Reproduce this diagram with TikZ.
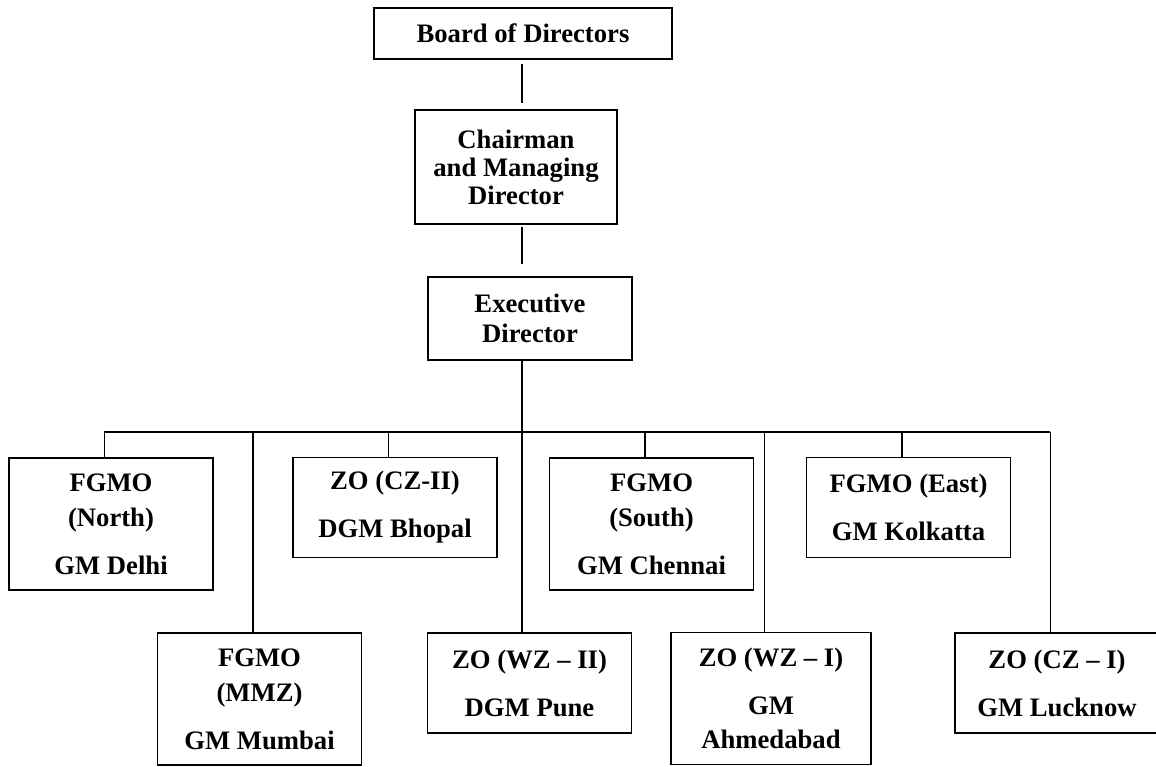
\documentclass[tikz,border=0pt]{standalone}
\usepackage{fontspec}
\setmainfont{Liberation Serif}
\usetikzlibrary{positioning}
\tikzset{orgbox/.style={draw, line width=1.1pt, inner sep=0pt, align=center, minimum width=153pt, font=\bfseries\fontsize{20}{26}\selectfont},
tall/.style={minimum height=99pt},
short/.style={minimum height=75pt},
headbox/.style={orgbox, font=\bfseries\fontsize{20}{23}\selectfont},
link/.style={line width=1.1pt}}

\begin{document}
\begin{tikzpicture}[x=0.75pt,y=-0.75pt]
\useasboundingbox (0,0) rectangle (1156,767);

\node[headbox, minimum width=223.5pt, minimum height=38.25pt] (board) at (523,33.5) {Board of Directors};
\node[headbox, minimum width=151.5pt, minimum height=85.5pt, font=\bfseries\fontsize{20}{21}\selectfont] (cmd) at (516,167) {Chairman\\and Managing\\Director};
\node[headbox, minimum height=62.25pt] (ed) at (530,318.5) {Executive\\Director};

\node[orgbox, tall] (north) at (111,524) {FGMO\\(North)\\[10pt]GM Delhi};
\node[orgbox, short] (czii) at (395,507.5) {ZO (CZ-II)\\[10pt]DGM Bhopal};
\node[orgbox, tall] (south) at (651.5,524) {FGMO\\(South)\\[10pt]GM Chennai};
\node[orgbox, short] (east) at (908.5,507.5) {FGMO (East)\\[10pt]GM Kolkatta};

\node[orgbox, tall] (mmz) at (259.5,699) {FGMO\\(MMZ)\\[10pt]GM Mumbai};
\node[orgbox, short] (pune) at (529.5,683) {ZO (WZ – II)\\[10pt]DGM Pune};
\node[orgbox, tall, minimum width=150pt] (wzi) at (771,698.5) {ZO (WZ – I)\\[10pt]GM\\Ahmedabad};
\node[orgbox, short] (czi) at (1057,683) {ZO (CZ – I)\\[10pt]GM Lucknow};

\coordinate (spine) at (522,0);
\coordinate (bus) at (0,432);

\draw[link, shorten <=3pt, shorten >=5pt] (board.south -| spine) -- (cmd.north -| spine);
\draw[link, shorten <=2pt, shorten >=9pt] (cmd.south -| spine) -- (ed.north -| spine);
\draw[link] (ed.south -| spine) -- (pune.north -| spine);

\foreach \n in {north,mmz,czii,south,wzi,east,czi}{
  \coordinate (\n-top) at ([xshift=-5pt]\n.north);
  \draw[link] (\n-top) -- (\n-top |- bus);
}
\draw[link] (north-top |- bus) -- (czi-top |- bus);
\end{tikzpicture}
\end{document}
